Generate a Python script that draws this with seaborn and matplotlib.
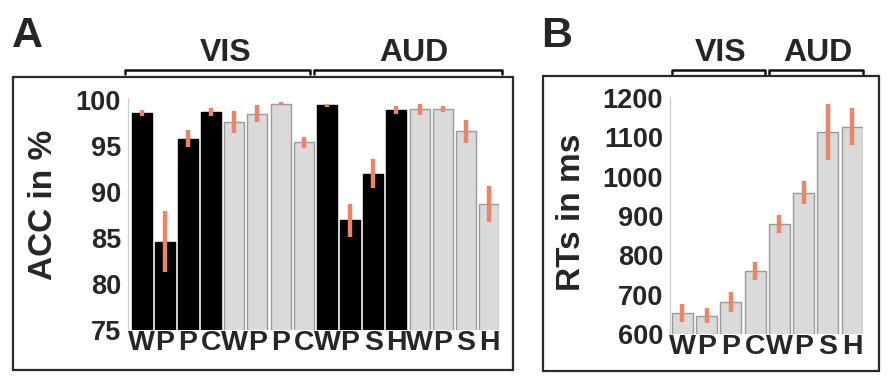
import numpy as np
import pandas as pd
import seaborn as sns
import matplotlib.pyplot as plt
from matplotlib.lines import Line2D
from matplotlib.patches import Rectangle

# Panel A: accuracy (%)
acc_labels = ["W", "P", "P", "C", "W", "P", "P", "C",
              "W", "P", "S", "H", "W", "P", "S", "H"]
acc_mean = [98.6, 84.6, 95.8, 98.7, 97.6, 98.5, 99.6, 95.4,
            99.4, 86.9, 92.0, 98.9, 99.0, 99.0, 96.6, 88.7]
acc_err = [0.35, 3.3, 0.95, 0.4, 1.2, 0.9, 0.15, 0.6,
           0.2, 1.75, 1.6, 0.45, 0.6, 0.3, 1.25, 2.0]
acc_dark = [True] * 4 + [False] * 4 + [True] * 4 + [False] * 4

# Panel B: reaction times (ms)
rt_labels = ["W", "P", "P", "C", "W", "P", "S", "H"]
rt_mean = [653, 646, 681, 760, 879, 959, 1113, 1127]
rt_err = [23, 19, 25, 23, 23, 29, 71, 48]

W, H = 892, 388
BLACK = "#000000"
GREY = "#dadada"
GREY_EDGE = "#9a9a9a"
ERR = "#ec8466"

sns.set_theme(style="white")
plt.rcParams["font.family"] = ["Liberation Sans", "DejaVu Sans"]
plt.rcParams["font.weight"] = "bold"

fig = plt.figure(figsize=(W / 100, H / 100), dpi=100)


def fx(x):
    return x / W


def fy(y):
    return 1 - y / H


def draw_bars(ax, labels, means, errs, colors, edges, width):
    ids = [f"c{i}" for i in range(len(labels))]
    df = pd.DataFrame({"cond": ids, "value": means})
    sns.barplot(data=df, x="cond", y="value", hue="cond", palette=dict(zip(ids, colors)),
                legend=False, width=width, ax=ax, linewidth=1.0)
    for patch, ec in zip(ax.patches, edges):
        patch.set_edgecolor(ec)
    ax.errorbar(np.arange(len(means)), means, yerr=errs, fmt="none",
                ecolor=ERR, elinewidth=3.2, capsize=0, zorder=5)
    ax.set_xticks(range(len(labels)))
    ax.set_xticklabels(labels, fontsize=20.5, fontweight="bold")
    ax.set_xlabel("")
    for s in ["top", "right", "bottom"]:
        ax.spines[s].set_visible(False)
    ax.spines["left"].set_color("#cfcfcf")
    ax.spines["left"].set_linewidth(0.9)
    ax.tick_params(axis="x", length=0, pad=0)
    ax.tick_params(axis="y", length=3, width=0.8, color="#bbbbbb", pad=2, labelsize=19.5)
    for t in ax.get_yticklabels():
        t.set_fontweight("bold")
    ax.set_facecolor("none")


# ---- Panel A ----
axA = fig.add_axes([fx(128), fy(330), fx(499) - fx(128), fy(98.3) - fy(330)])
colA = [BLACK if d else GREY for d in acc_dark]
edgA = [BLACK if d else GREY_EDGE for d in acc_dark]
draw_bars(axA, acc_labels, acc_mean, acc_err, colA, edgA, 0.86)
axA.set_xlim(-0.59, 15.43)
axA.set_ylim(75, 100.18)
axA.set_yticks([75, 80, 85, 90, 95, 100])
axA.set_ylabel("")
fig.text(fx(44), fy(205), "ACC in %", rotation=90, ha="center", va="center",
         fontsize=24, fontweight="bold")

# ---- Panel B ----
axB = fig.add_axes([fx(670), fy(334), fx(862.7) - fx(670), fy(96.7) - fy(334)])
draw_bars(axB, rt_labels, rt_mean, rt_err, [GREY] * 8, [GREY_EDGE] * 8, 0.87)
axB.set_xlim(-0.505, 7.435)
axB.set_ylim(600, 1203)
axB.set_yticks([600, 700, 800, 900, 1000, 1100, 1200])
axB.set_ylabel("")
fig.text(fx(572), fy(212), "RTs in ms", rotation=90, ha="center", va="center",
         fontsize=24, fontweight="bold")

# panel frames
for x0, y0, x1, y1 in [(13, 77, 513, 370), (543, 76, 879, 371)]:
    fig.patches.append(Rectangle((fx(x0), fy(y1)), fx(x1) - fx(x0), fy(y0) - fy(y1),
                                 transform=fig.transFigure, fill=False,
                                 edgecolor="#2a2a2a", linewidth=1.6))

# group brackets and labels
brackets = [(125, 310, 226, "VIS"), (314, 502, 414, "AUD"),
            (672, 765, 721, "VIS"), (769, 863, 818, "AUD")]
for x0, x1, xc, name in brackets:
    xs = [fx(x0), fx(x0), fx(x1), fx(x1)]
    ys = [fy(74), fy(69.5), fy(69.5), fy(74)]
    fig.add_artist(Line2D(xs, ys, transform=fig.transFigure, color="#111111",
                          linewidth=1.8, solid_joinstyle="round"))
    fig.text(fx(xc), fy(53), name, ha="center", va="center", fontsize=23,
             fontweight="bold")

fig.text(fx(12), fy(36), "A", ha="left", va="center", fontsize=31, fontweight="bold")
fig.text(fx(541), fy(36), "B", ha="left", va="center", fontsize=31, fontweight="bold")

fig.savefig("out.png", dpi=100)
